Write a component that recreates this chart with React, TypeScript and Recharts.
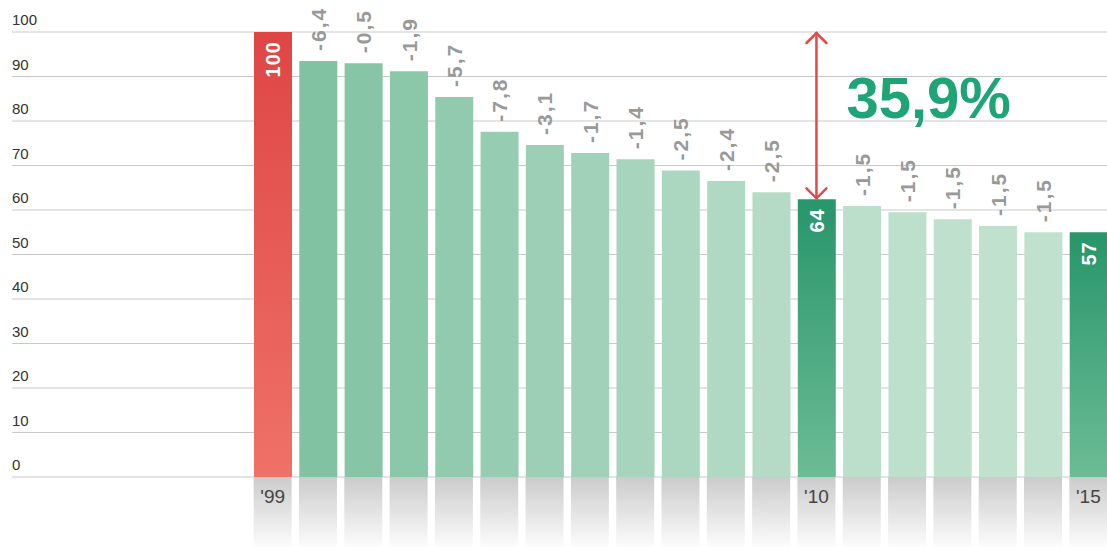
import React from 'react';
import { BarChart, Bar, XAxis, YAxis, CartesianGrid, Cell, LabelList, ReferenceLine } from 'recharts';

const FONT = '"Liberation Sans", Arial, Helvetica, sans-serif';

// one slot per bar, only three of them carry a visible label
const slots = ['s01', 's02', 's03', 's04', 's05', 's06', 's07', 's08', 's09', 's10', 's11', 's12', 's13', 's14', 's15', 's16', 's17', 's18', 's19'];
const periodLabels = ["'99", '', '', '', '', '', '', '', '', '', '', '', "'10", '', '', '', '', '', "'15"];

// index values
const values = [100, 93.5, 93.0, 91.2, 85.4, 77.6, 74.6, 72.8, 71.4, 68.9, 66.5, 64.0, 62.4, 60.9, 59.5, 57.9, 56.4, 55.0, 55.0];

// printed change above each bar
const changes = ['', '-6,4', '-0,5', '-1,9', '-5,7', '-7,8', '-3,1', '-1,7', '-1,4', '-2,5', '-2,4', '-2,5', '', '-1,5', '-1,5', '-1,5', '-1,5', '-1,5', ''];

// printed value inside the highlighted bars
const innerLabels = ['100', '', '', '', '', '', '', '', '', '', '', '', '64', '', '', '', '', '', '57'];

const barFills = [
  'url(#barRed)', '#80c2a2', '#86c5a6', '#8bc8aa', '#91caae', '#96cdb2', '#9ccfb6', '#a1d2b9', '#a6d4bd',
  '#abd7c1', '#b0d9c4', '#b5dbc7', 'url(#barDeep)', '#bcdfcc', '#bde0cd', '#bee0cd', '#bfe1ce', '#bfe1ce', 'url(#barDeep)',
];

const yTicks = [0, 10, 20, 30, 40, 50, 60, 70, 80, 90, 100];

const drop = '35,9%';

const data = slots.map((slot, i) => ({
  slot,
  value: values[i],
  change: changes[i],
  inner: innerLabels[i],
}));

const ValueTick = (props: any) => {
  const { y, payload } = props;
  return (
    <text x={12} y={y - 7} fontSize={15} fill="#333" fontFamily={FONT}>
      {payload.value}
    </text>
  );
};

const PeriodTick = (props: any) => {
  const { x, y, payload } = props;
  const label = periodLabels[payload.index];
  return (
    <g>
      <rect x={x - 19} y={y} width={38} height={70} fill="url(#shadowFade)" />
      {label ? (
        <text x={x} y={y + 26} textAnchor="middle" fontSize={19} fill="#444" fontFamily={FONT}>
          {label}
        </text>
      ) : null}
    </g>
  );
};

const ChangeLabel = (props: any) => {
  const { x, y, width, value } = props;
  if (!value) return null;
  const cx = Number(x) + Number(width) / 2;
  const ty = Number(y) - 10;
  return (
    <text
      x={cx}
      y={ty}
      dy="0.36em"
      transform={`rotate(-90 ${cx} ${ty})`}
      textAnchor="start"
      fontSize={21}
      fontWeight="bold"
      letterSpacing={2}
      fill="#999"
      fontFamily={FONT}
    >
      {value}
    </text>
  );
};

const InnerLabel = (props: any) => {
  const { x, y, width, value } = props;
  if (!value) return null;
  const cx = Number(x) + Number(width) / 2;
  const ty = Number(y) + 9;
  return (
    <text
      x={cx}
      y={ty}
      dy="0.36em"
      transform={`rotate(-90 ${cx} ${ty})`}
      textAnchor="end"
      fontSize={20}
      fontWeight="bold"
      letterSpacing={1}
      fill="#fff"
      fontFamily={FONT}
    >
      {value}
    </text>
  );
};

const GapArrow = (props: any) => {
  const { x1, y1, y2 } = props;
  const top = y1 + 1;
  const bottom = y2 - 1;
  return (
    <g>
      <g stroke="#e5484a" strokeWidth={2.5} fill="none" strokeLinecap="round">
        <line x1={x1} y1={top} x2={x1} y2={bottom} />
        <polyline points={`${x1 - 10},${top + 10} ${x1},${top} ${x1 + 10},${top + 10}`} />
        <polyline points={`${x1 - 10},${bottom - 10} ${x1},${bottom} ${x1 + 10},${bottom - 10}`} />
      </g>
      <text x={x1 + 30} y={y1 + 86} fontSize={58} fontWeight="bold" fill="#1fa476" fontFamily={FONT}>
        {drop}
      </text>
    </g>
  );
};

export default function App() {
  return (
    <div style={{ width: 1107, height: 547, background: '#fff' }}>
      <style>{'body{margin:0}'}</style>
      <BarChart width={1107} height={547} data={data} margin={{ top: 32, right: -4, bottom: 0, left: 0 }}>
        <defs>
          <linearGradient id="barRed" x1="0" y1="0" x2="0" y2="1">
            <stop offset="0%" stopColor="#de4645" />
            <stop offset="100%" stopColor="#ef7167" />
          </linearGradient>
          <linearGradient id="barDeep" x1="0" y1="0" x2="0" y2="1">
            <stop offset="0%" stopColor="#28956b" />
            <stop offset="100%" stopColor="#6cbc95" />
          </linearGradient>
          <linearGradient id="shadowFade" x1="0" y1="0" x2="0" y2="1">
            <stop offset="0%" stopColor="#cbcbcb" />
            <stop offset="100%" stopColor="#fcfcfc" />
          </linearGradient>
        </defs>
        <CartesianGrid vertical={false} stroke="#c9c9c9" />
        <XAxis
          dataKey="slot"
          height={70}
          padding={{ left: 238, right: 0 }}
          interval={0}
          tickSize={0}
          tickMargin={0}
          axisLine={false}
          tickLine={false}
          tick={<PeriodTick />}
        />
        <YAxis
          width={12}
          domain={[0, 100]}
          ticks={yTicks}
          interval={0}
          axisLine={false}
          tickLine={false}
          tick={<ValueTick />}
        />
        <Bar dataKey="value" barSize={38} isAnimationActive={false}>
          {data.map((d, i) => (
            <Cell key={d.slot} fill={barFills[i]} />
          ))}
          <LabelList dataKey="change" content={ChangeLabel} />
          <LabelList dataKey="inner" content={InnerLabel} />
        </Bar>
        <ReferenceLine
          segment={[
            { x: slots[12], y: values[0] },
            { x: slots[12], y: values[12] },
          ]}
          shape={GapArrow}
        />
      </BarChart>
    </div>
  );
}
